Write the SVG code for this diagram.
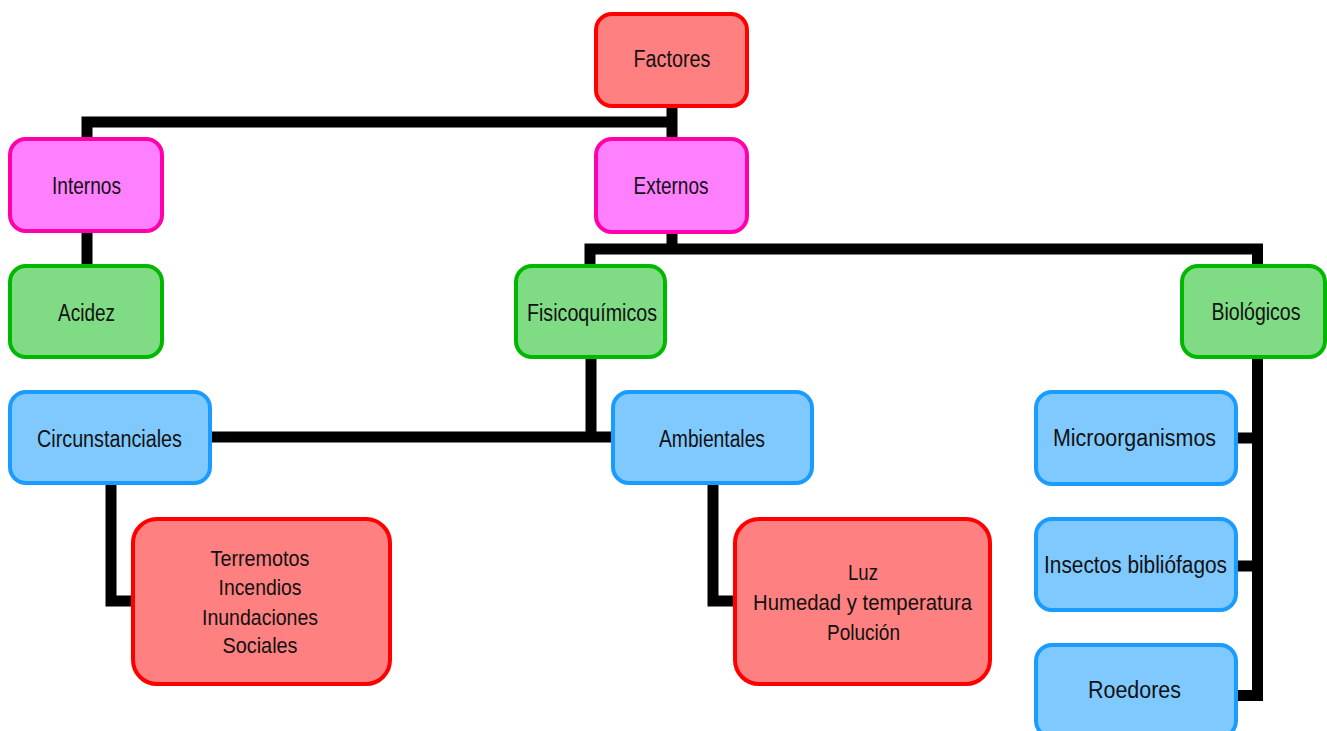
<svg xmlns="http://www.w3.org/2000/svg" width="1327" height="731" viewBox="0 0 1327 731">
<style>
.c{fill:none;stroke:#000;stroke-width:11;stroke-linejoin:miter;stroke-linecap:butt}
.n rect{stroke-width:4}
.red rect{fill:#FF8080;stroke:#FF0000}
.pink rect{fill:#FF80FF;stroke:#FF00AA}
.green rect{fill:#80DC84;stroke:#00B800}
.blue rect{fill:#80C9FF;stroke:#1A9BFF}
text{font-family:"Liberation Sans",Arial,sans-serif;font-size:23px;fill:#111;text-anchor:middle}
.s{font-size:22px}
</style>
<rect width="1327" height="731" fill="#fff"/>
<g id="connectors">
<path class="c" d="M672,106 V122 M87,139 V122 H677 M672,122 V139"/>
<path class="c" d="M87,231 V266"/>
<path class="c" d="M672,232 V249 M590,266 V249 H1257.5 V266"/>
<path class="c" d="M591,357 V437 M210,437 H613"/>
<path class="c" d="M111,483 V601 H133"/>
<path class="c" d="M713,483 V601 H735"/>
<path class="c" d="M1257.5,357 V695.5 H1236 M1236,438 H1257 M1236,566 H1257"/>
</g>
<g id="factores" class="n red"><rect x="596" y="14" width="151" height="92" rx="16"/><text x="672" y="67" textLength="77" lengthAdjust="spacingAndGlyphs">Factores</text></g>
<g id="internos" class="n pink"><rect x="10" y="139" width="152" height="92" rx="16"/><text x="86.5" y="194" textLength="69" lengthAdjust="spacingAndGlyphs">Internos</text></g>
<g id="externos" class="n pink"><rect x="596" y="139" width="151" height="93" rx="16"/><text x="671" y="194" textLength="75" lengthAdjust="spacingAndGlyphs">Externos</text></g>
<g id="acidez" class="n green"><rect x="10" y="266" width="152" height="91" rx="16"/><text x="86.5" y="321" textLength="57" lengthAdjust="spacingAndGlyphs">Acidez</text></g>
<g id="fisicoquimicos" class="n green"><rect x="516" y="266" width="149" height="91" rx="16"/><text x="592" y="321" textLength="130" lengthAdjust="spacingAndGlyphs">Fisicoquímicos</text></g>
<g id="biologicos" class="n green"><rect x="1182" y="266" width="143" height="91" rx="16"/><text x="1256" y="320" textLength="89" lengthAdjust="spacingAndGlyphs">Biológicos</text></g>
<g id="circunstanciales" class="n blue"><rect x="10" y="392" width="200" height="91" rx="16"/><text x="109.5" y="447" textLength="145" lengthAdjust="spacingAndGlyphs">Circunstanciales</text></g>
<g id="ambientales" class="n blue"><rect x="613" y="392" width="199" height="91" rx="16"/><text x="712" y="447" textLength="106" lengthAdjust="spacingAndGlyphs">Ambientales</text></g>
<g id="microorganismos" class="n blue"><rect x="1036" y="392" width="200" height="92" rx="16"/><text x="1134.5" y="446" textLength="163" lengthAdjust="spacingAndGlyphs">Microorganismos</text></g>
<g id="insectos" class="n blue"><rect x="1036" y="519" width="200" height="91" rx="16"/><text x="1135.5" y="573" textLength="183" lengthAdjust="spacingAndGlyphs">Insectos bibliófagos</text></g>
<g id="roedores" class="n blue"><rect x="1036" y="645" width="200" height="92" rx="16"/><text x="1134.5" y="698" textLength="93" lengthAdjust="spacingAndGlyphs">Roedores</text></g>
<g id="circunstanciales-detalle" class="n red"><rect x="133" y="519" width="257" height="165" rx="24"/>
<text class="s" x="260" y="566" textLength="99" lengthAdjust="spacingAndGlyphs">Terremotos</text>
<text class="s" x="260" y="595" textLength="83" lengthAdjust="spacingAndGlyphs">Incendios</text>
<text class="s" x="260" y="625" textLength="116" lengthAdjust="spacingAndGlyphs">Inundaciones</text>
<text class="s" x="260" y="653" textLength="75" lengthAdjust="spacingAndGlyphs">Sociales</text></g>
<g id="ambientales-detalle" class="n red"><rect x="735" y="519" width="255" height="165" rx="24"/>
<text class="s" x="863" y="580" textLength="30" lengthAdjust="spacingAndGlyphs">Luz</text>
<text class="s" x="862.5" y="610" textLength="219" lengthAdjust="spacingAndGlyphs">Humedad y temperatura</text>
<text class="s" x="863.5" y="640" textLength="73" lengthAdjust="spacingAndGlyphs">Polución</text></g>
</svg>
